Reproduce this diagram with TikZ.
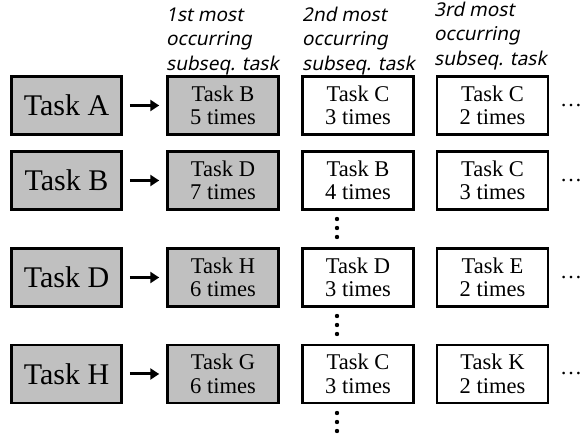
\documentclass[tikz,border=0pt]{standalone}
\usepackage{fontspec}
\setmainfont{Liberation Serif}
\newfontfamily\headfont[FakeSlant=0.2]{Noto Sans}
\usetikzlibrary{arrows.meta}

\newlength{\du}
\setlength{\du}{1pt}
\definecolor{taskgray}{rgb}{0.752941, 0.752941, 0.752941}

\tikzset{
  srcbox/.style={draw, line width=2.5\du, fill=taskgray, minimum width=110\du,
    minimum height=58\du, inner sep=0pt, font=\fontsize{30}{30}\selectfont},
  cntbox/.style={draw, line width=2.5\du, fill=white, minimum width=111\du,
    minimum height=58\du, inner sep=0pt, align=center,
    font=\fontsize{22.5}{23.5}\selectfont},
  topbox/.style={cntbox, fill=taskgray},
  colhead/.style={anchor=south west, inner sep=0pt, align=left,
    font=\headfont\fontsize{19}{24.5}\selectfont},
  moredots/.style={inner sep=0pt, font=\fontsize{22}{22}\selectfont},
  nextarrow/.style={line width=3pt, -{Triangle[length=9pt,width=11pt]},
    shorten <=7pt, shorten >=7pt},
}

\begin{document}
\begin{tikzpicture}
\pgftransformxscale{1.000000}
\pgftransformyscale{-1.000000}
\useasboundingbox (0\du,0\du) rectangle (582\du,435\du);
% setfont left to latex
\node[colhead] (head1) at (166\du,75\du){1st most\\occurring\\subseq. task};
\node[colhead] (head2) at (302\du,75\du){2nd most\\occurring\\subseq. task};
\node[colhead] (head3) at (434\du,70\du){3rd most\\occurring\\subseq. task};
% row A
\node[srcbox] (taskA) at (66.5\du,105.5\du){Task A};
\node[topbox] (taskA1) at (223\du,105.5\du){Task B\\5 times};
\node[cntbox] (taskA2) at (358\du,105.5\du){Task C\\3 times};
\node[cntbox] (taskA3) at (492.5\du,105.5\du){Task C\\2 times};
\node[moredots] (dotsA) at (571\du,105.5\du){…};
\draw[nextarrow] (taskA) -- (taskA1);
% row B
\node[srcbox] (taskB) at (66.5\du,180.5\du){Task B};
\node[topbox] (taskB1) at (223\du,180.5\du){Task D\\7 times};
\node[cntbox] (taskB2) at (358\du,180.5\du){Task B\\4 times};
\node[cntbox] (taskB3) at (492.5\du,180.5\du){Task C\\3 times};
\node[moredots] (dotsB) at (571\du,180.5\du){…};
\draw[nextarrow] (taskB) -- (taskB1);
\fill (337\du,219\du) circle (2.2\du);
\fill (337\du,228\du) circle (2.2\du);
\fill (337\du,237\du) circle (2.2\du);
% row D
\node[srcbox] (taskD) at (66.5\du,277.5\du){Task D};
\node[topbox] (taskD1) at (223\du,277.5\du){Task H\\6 times};
\node[cntbox] (taskD2) at (358\du,277.5\du){Task D\\3 times};
\node[cntbox] (taskD3) at (492.5\du,277.5\du){Task E\\2 times};
\node[moredots] (dotsD) at (571\du,277.5\du){…};
\draw[nextarrow] (taskD) -- (taskD1);
\fill (337\du,316\du) circle (2.2\du);
\fill (337\du,325\du) circle (2.2\du);
\fill (337\du,334\du) circle (2.2\du);
% row H
\node[srcbox] (taskH) at (66.5\du,374\du){Task H};
\node[topbox] (taskH1) at (223\du,374\du){Task G\\6 times};
\node[cntbox] (taskH2) at (358\du,374\du){Task C\\3 times};
\node[cntbox] (taskH3) at (492.5\du,374\du){Task K\\2 times};
\node[moredots] (dotsH) at (571\du,374\du){…};
\draw[nextarrow] (taskH) -- (taskH1);
\fill (337\du,413\du) circle (2.2\du);
\fill (337\du,422\du) circle (2.2\du);
\fill (337\du,431\du) circle (2.2\du);
\end{tikzpicture}
\end{document}
